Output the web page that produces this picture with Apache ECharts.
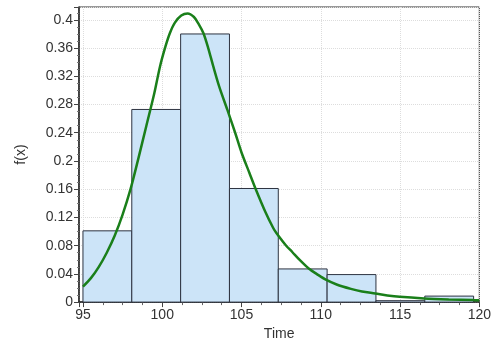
<!DOCTYPE html>
<html>
<head>
<meta charset="utf-8">
<script src="https://cdn.jsdelivr.net/npm/echarts@6/dist/echarts.min.js"></script>
<style>html,body{margin:0;padding:0;background:#fff}#c{width:494px;height:346px}</style>
</head>
<body>
<div id="c"></div>
<script>
// Histogram bins (Time) and relative frequencies
const binStarts = [95, 98.08, 101.16, 104.24, 107.32, 110.40, 113.48, 116.56];
const binEnds   = [98.08, 101.16, 104.24, 107.32, 110.40, 113.48, 116.56, 119.64];
const binValues = [0.101, 0.273, 0.380, 0.161, 0.047, 0.039, 0.002, 0.0085];

// Fitted density curve f(x)
const curveX = [95.0, 95.5, 96.0, 96.5, 97.0, 97.5, 98.0, 98.5, 99.0, 99.5, 99.86, 100.2, 100.48, 100.8, 101.2, 101.6, 102.0, 102.3, 102.6, 102.9, 103.22, 103.6, 104.1, 104.6, 105.0, 105.5, 105.88, 106.5, 107.0, 107.2, 107.78, 108.2, 108.7, 109.22, 109.8, 110.35, 111.0, 111.9, 112.6, 113.44, 114.2, 114.98, 116.52, 118.07, 119.6, 120.0];
const curveY = [0.022, 0.034, 0.050, 0.070, 0.094, 0.124, 0.160, 0.204, 0.250, 0.296, 0.334, 0.362, 0.381, 0.396, 0.406, 0.409, 0.404, 0.394, 0.381, 0.360, 0.334, 0.305, 0.273, 0.240, 0.212, 0.183, 0.161, 0.128, 0.105, 0.098, 0.081, 0.071, 0.059, 0.048, 0.039, 0.0314, 0.025, 0.0188, 0.015, 0.0122, 0.0095, 0.0075, 0.0052, 0.0038, 0.0028, 0.0026];

const xName = 'Time';
const yName = 'f(x)';

const barData = binStarts.map((s, i) => [s, binEnds[i], binValues[i]]);
const lineData = curveX.map((x, i) => [x, curveY[i]]);

const font = { fontFamily: 'Liberation Sans', fontSize: 14, color: '#333' };

const chart = echarts.init(document.getElementById('c'));
chart.setOption({
  animation: false,
  backgroundColor: '#fff',
  grid: { left: 79, right: 7, top: 7, bottom: 40, show: true, borderColor: '#333', borderWidth: 1 },
  xAxis: {
    type: 'value', min: 94.75, max: 120, splitNumber: 5,
    name: xName, nameLocation: 'middle', nameGap: 23,
    nameTextStyle: font,
    axisLine: { lineStyle: { color: '#222', width: 1.5 } },
    axisTick: { show: true, length: 5, lineStyle: { color: '#444' } },
    minorTick: { show: true, splitNumber: 4, length: 3, lineStyle: { color: '#666' } },
    axisLabel: Object.assign({ margin: 6, formatter: v => (Math.abs(v / 5 - Math.round(v / 5)) < 1e-6 ? String(Math.round(v)) : '') }, font),
    splitLine: { show: true, lineStyle: { color: '#ddd', type: 'dotted', width: 1 } }
  },
  yAxis: {
    type: 'value', min: 0, max: 0.4182, interval: 0.04,
    name: yName, nameLocation: 'middle', nameGap: 51,
    nameTextStyle: font,
    axisLine: { show: true, lineStyle: { color: '#222', width: 1.5 } },
    axisTick: { show: true, length: 5, lineStyle: { color: '#444' } },
    minorTick: { show: true, splitNumber: 4, length: 2, lineStyle: { color: '#777' } },
    axisLabel: Object.assign({ margin: 6, formatter: v => { const k = v / 0.04; return Math.abs(k - Math.round(k)) < 1e-6 ? String(+(Math.round(k) * 0.04).toFixed(2)) : ''; } }, font),
    splitLine: { show: true, lineStyle: { color: '#ddd', type: 'dotted', width: 1 } }
  },
  series: [
    {
      type: 'custom',
      data: barData,
      encode: { x: [0, 1], y: 2 },
      renderItem: function (params, api) {
        const p0 = api.coord([api.value(0), api.value(2)]);
        const p1 = api.coord([api.value(1), 0]);
        return {
          type: 'rect',
          shape: { x: p0[0], y: p0[1], width: p1[0] - p0[0], height: p1[1] - p0[1] },
          style: { fill: '#cce4f8', stroke: '#2d3340', lineWidth: 1 }
        };
      },
      z: 2
    },
    {
      type: 'line',
      data: lineData,
      smooth: 0.3,
      showSymbol: false,
      lineStyle: { color: '#1a7f1a', width: 2.5 },
      z: 3
    }
  ]
});
</script>
</body>
</html>
